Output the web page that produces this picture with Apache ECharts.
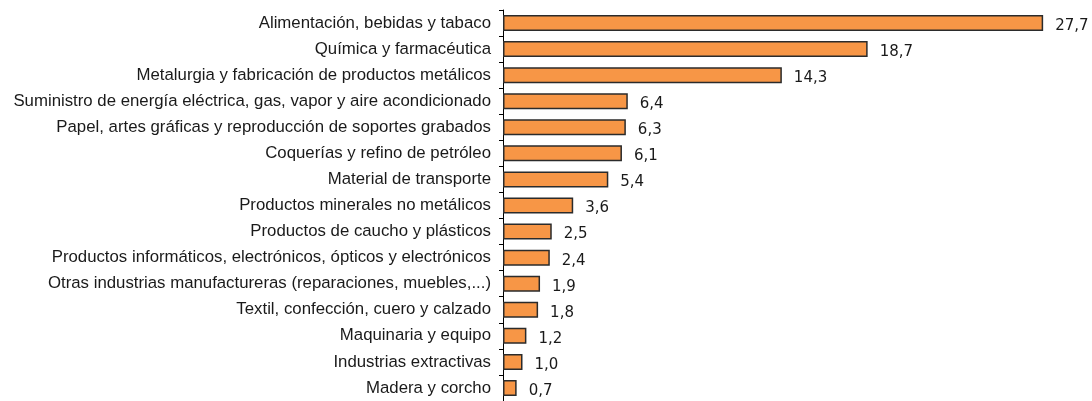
<!DOCTYPE html>
<html><head><meta charset="utf-8">
<script src="https://cdn.jsdelivr.net/npm/echarts@6/dist/echarts.min.js"></script>
<style>html,body{margin:0;padding:0;background:#fff}#c{width:1092px;height:401px}</style>
</head><body><div id="c"></div>
<script>
const categories = [
  "Alimentación, bebidas y tabaco",
  "Química y farmacéutica",
  "Metalurgia y fabricación de productos metálicos",
  "Suministro de energía eléctrica, gas, vapor y aire acondicionado",
  "Papel, artes gráficas y reproducción de soportes grabados",
  "Coquerías y refino de petróleo",
  "Material de transporte",
  "Productos minerales no metálicos",
  "Productos de caucho y plásticos",
  "Productos informáticos, electrónicos, ópticos y electrónicos",
  "Otras industrias manufactureras (reparaciones, muebles,...)",
  "Textil, confección, cuero y calzado",
  "Maquinaria y equipo",
  "Industrias extractivas",
  "Madera y corcho"
];
const values = [27.7, 18.7, 14.3, 6.4, 6.3, 6.1, 5.4, 3.6, 2.5, 2.4, 1.9, 1.8, 1.2, 1.0, 0.7];

const chart = echarts.init(document.getElementById('c'), null, {renderer: 'canvas'});
chart.setOption({
  animation: false,
  backgroundColor: '#ffffff',
  grid: {left: 503, top: 10, width: 585, height: 396, containLabel: false},
  xAxis: {type: 'value', min: 0, max: 30, show: false},
  yAxis: {
    type: 'category', data: categories, inverse: true,
    axisLine: {show: true, lineStyle: {color: '#000', width: 1}},
    axisTick: {show: true, length: 4, lineStyle: {color: '#000'}},
    axisLabel: {color: '#1a1a1a', fontFamily: 'Liberation Sans', fontSize: 16.8, margin: 12},
    splitLine: {show: false}
  },
  series: [{
    type: 'bar', data: values, barWidth: 16,
    itemStyle: {color: '#F79646', borderColor: '#2b2b2b', borderWidth: 1.5},
    label: {
      show: true, position: 'right', distance: 12, offset: [0, 3],
      color: '#1a1a1a', fontFamily: 'DejaVu Sans', fontSize: 15,
      formatter: p => p.value.toFixed(1).replace('.', ',')
    }
  }]
});
</script></body></html>
